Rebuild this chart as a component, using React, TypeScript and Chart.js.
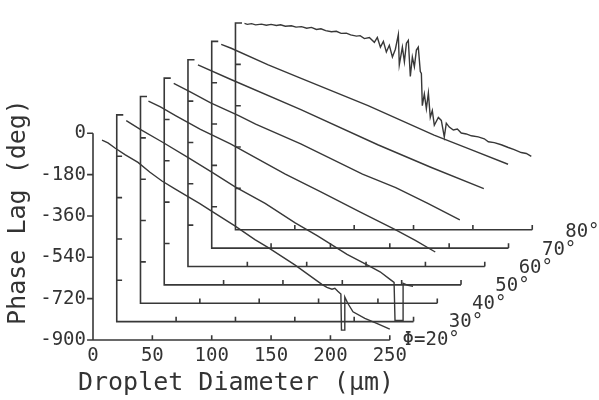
import { useEffect, useRef } from 'react';
import { Chart, registerables } from 'chart.js';

Chart.register(...registerables);

// ---------- data ----------
const PHI_LABELS = ['Φ=20°', '30°', '40°', '50°', '60°', '70°', '80°'];
const X_TICKS = [0, 50, 100, 150, 200, 250];
const Y_TICKS = [0, -180, -360, -540, -720, -900];
const X_AXIS_TITLE = 'Droplet Diameter (μm)';
const Y_AXIS_TITLE = 'Phase Lag (deg)';

// [droplet diameter (μm), phase lag (deg)]
const CURVE_20 = [
  [7.6, -30], [12.6, -42], [18.5, -64], [26.9, -93], [37.9, -127], [48, -170], [58.1, -208],
  [69, -242], [80, -276], [90, -306], [100.2, -340], [119.5, -403], [136.4, -463], [147.3, -497],
  [170, -573], [192.8, -658], [197, -671], [201.3, -679], [203.7, -675], [206.2, -688], [208.8, -700],
  [209.3, -857], [212.1, -857], [212.1, -713], [214.6, -740], [219, -777], [229, -806], [239, -828],
  [250, -853],
];
const CURVE_30 = [
  [8, -25], [19.8, -63], [38.3, -118], [60.2, -186], [80.4, -250], [99.7, -313], [125, -385],
  [150.3, -470], [168.8, -526], [194, -607], [210.9, -653], [221.8, -683], [230.2, -716],
  [233.6, -729], [234.4, -895], [241.2, -895], [241.2, -733], [245.4, -742], [249.6, -746],
];
const CURVE_40 = [
  [6.7, -20], [16.8, -45], [29.5, -83], [50.5, -143], [75.8, -206], [96.8, -266], [122, -338],
  [151.5, -414], [185.2, -503], [214.6, -580], [231.5, -626], [248.3, -677],
];
const CURVE_50 = [
  [8, -23], [22.3, -61], [39.1, -108], [62.7, -163], [77, -200], [115, -286], [167, -418],
  [195, -477], [222, -545], [249, -617],
];
const CURVE_60 = [
  [8.4, -22], [36.2, -86], [95.1, -217], [159.9, -370], [204.5, -468], [249.2, -561],
];
const CURVE_70 = [
  [8, -13], [16.4, -30], [47.6, -102], [75.3, -161], [131.7, -280], [187.3, -408], [218.4, -471],
  [249.6, -535],
];
const CURVE_80 = [
  [7.6, -2], [10, -6], [13.5, -3], [17, -8], [21.9, -5], [26, -10], [30, -6], [34.5, -11], [38, -8],
  [42, -14], [47.1, -12], [51, -18], [55.6, -16], [60, -23], [64, -19], [68.2, -28], [72, -25],
  [76, -33], [80.8, -38], [85, -36], [89, -45], [93.4, -44], [97, -52], [101.9, -57], [105, -55],
  [108.6, -68], [112.8, -63], [117, -84], [119.5, -63], [122.1, -105], [124.6, -80], [127.1, -126],
  [129.6, -97], [132.2, -148], [134.7, -114], [137.2, -50], [138, -182], [140.6, -105], [142.3, -169],
  [144, -88], [145.6, -76], [147.3, -233], [149, -148], [150.7, -190], [152.4, -118], [154, -105],
  [155.7, -211], [156.6, -220], [157.4, -360], [159.1, -309], [160.8, -373], [162.5, -305],
  [164.1, -411], [165.8, -381], [167.5, -445], [170.9, -411], [173.4, -424], [175.9, -496],
  [177.6, -436], [180.1, -453], [183.5, -466], [186.9, -462], [190.2, -479], [194.4, -483],
  [198.7, -491], [204.5, -496], [209.6, -504], [213, -517], [218, -521], [223.9, -530],
  [229.8, -542], [234.8, -551], [240.7, -564], [245, -568], [249.2, -581],
];
const CURVES = [CURVE_20, CURVE_30, CURVE_40, CURVE_50, CURVE_60, CURVE_70, CURVE_80];

// ---------- layout / style (not data) ----------
const PANEL_DX = 20; // oblique shift per panel, in μm units
const PANEL_DY = 80; // oblique shift per panel, in deg units
const TICK_UP = 21; // x tick length (deg units)
const TICK_SIDE = 4.5; // y tick length (μm units)
const LINE = '#383838';
const TEXT = '#333333';
const FONT = '"DejaVu Sans Mono", monospace';

type P = { x: number; y: number | null };

function frameData(k: number): P[] {
  const ox = k * PANEL_DX;
  const oy = k * PANEL_DY;
  const top = Y_TICKS[0];
  const bottom = Y_TICKS[Y_TICKS.length - 1];
  const right = X_TICKS[X_TICKS.length - 1];
  const pts: P[] = [];
  if (k > 0) pts.push({ x: ox + TICK_SIDE + 1, y: oy + top });
  pts.push({ x: ox, y: oy + top });
  pts.push({ x: ox, y: oy + bottom });
  pts.push({ x: ox + right, y: oy + bottom });
  pts.push({ x: ox + right, y: null });
  // x ticks pointing up
  X_TICKS.slice(1).forEach((t) => {
    pts.push({ x: ox + t, y: oy + bottom });
    pts.push({ x: ox + t, y: oy + bottom + TICK_UP });
    pts.push({ x: ox + t, y: null });
  });
  // y ticks
  Y_TICKS.forEach((t) => {
    if (k === 0) {
      pts.push({ x: ox, y: oy + t });
      pts.push({ x: ox - TICK_SIDE - 0.5, y: oy + t });
      pts.push({ x: ox, y: null });
    } else if (t !== top && t !== bottom) {
      pts.push({ x: ox, y: oy + t });
      pts.push({ x: ox + TICK_SIDE, y: oy + t });
      pts.push({ x: ox, y: null });
    }
  });
  return pts;
}

function curveData(k: number): P[] {
  return CURVES[k].map(([d, p]) => ({ x: d + k * PANEL_DX, y: p + k * PANEL_DY }));
}

const textPlugin = {
  id: 'waterfallText',
  afterDraw(chart: any) {
    const { ctx } = chart;
    const xs = chart.scales.x;
    const ys = chart.scales.y;
    ctx.save();
    ctx.fillStyle = TEXT;
    ctx.font = `19px ${FONT}`;
    ctx.textAlign = 'right';
    ctx.textBaseline = 'middle';
    PHI_LABELS.forEach((label, k) => {
      const px = xs.getPixelForValue(X_TICKS[X_TICKS.length - 1] + k * PANEL_DX);
      const py = ys.getPixelForValue(Y_TICKS[Y_TICKS.length - 1] + k * PANEL_DY);
      ctx.fillText(label, px + 70 - k * 0.45, py + 0.4 * k);
    });
    ctx.font = `25px ${FONT}`;
    ctx.textAlign = 'center';
    ctx.fillText(X_AXIS_TITLE, 236, 383);
    ctx.translate(18, 212);
    ctx.rotate(-Math.PI / 2);
    ctx.fillText(Y_AXIS_TITLE, 0, 0);
    ctx.restore();
  },
};

export default function App() {
  const ref = useRef<HTMLCanvasElement | null>(null);
  useEffect(() => {
    if (!ref.current) return;
    const datasets: any[] = [];
    for (let k = 0; k < PHI_LABELS.length; k++) {
      datasets.push({
        data: frameData(k),
        showLine: true,
        borderColor: LINE,
        borderWidth: 1.6,
        pointRadius: 0,
        spanGaps: false,
        clip: false,
      });
      datasets.push({
        data: curveData(k),
        showLine: true,
        borderColor: LINE,
        borderWidth: 1.4,
        pointRadius: 0,
        spanGaps: false,
        clip: false,
      });
    }
    const chart = new Chart(ref.current, {
      type: 'scatter',
      data: { datasets },
      plugins: [textPlugin],
      options: {
        animation: false,
        responsive: true,
        maintainAspectRatio: false,
        layout: { padding: { left: 8, top: 10, right: 43, bottom: 10 } },
        plugins: { legend: { display: false }, tooltip: { enabled: false } },
        events: [],
        scales: {
          x: {
            type: 'linear',
            min: 0,
            max: 390,
            afterFit: (s: any) => {
              s.height = 50;
            },
            grid: { display: false, drawTicks: false },
            border: { display: false },
            ticks: {
              stepSize: 50,
              autoSkip: false,
              maxRotation: 0,
              padding: 5,
              color: TEXT,
              font: { family: FONT, size: 19 },
              callback: (v: any) => (X_TICKS.includes(Math.round(v)) ? String(Math.round(v)) : ''),
            },
          },
          y: {
            type: 'linear',
            min: -900,
            max: 500,
            afterFit: (s: any) => {
              s.width = 85;
            },
            grid: { display: false, drawTicks: false },
            border: { display: false },
            ticks: {
              stepSize: 180,
              autoSkip: false,
              padding: 7,
              color: TEXT,
              font: { family: FONT, size: 19 },
              callback: (v: any) => (Y_TICKS.includes(Math.round(v)) ? String(Math.round(v)) : ''),
            },
          },
        },
      },
    });
    return () => chart.destroy();
  }, []);
  return (
    <div style={{ position: 'absolute', left: 0, top: 0, width: 599, height: 400 }}>
      <canvas ref={ref} />
    </div>
  );
}
